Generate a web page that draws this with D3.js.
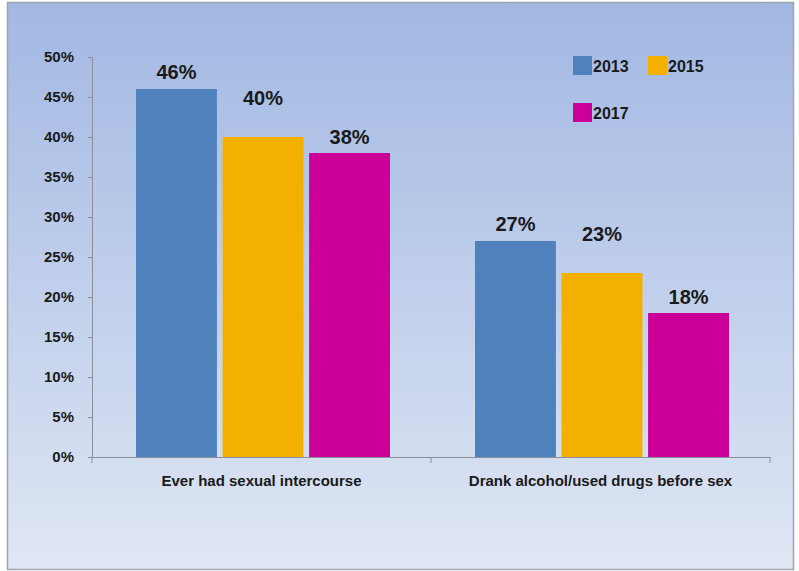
<!DOCTYPE html>
<html>
<head>
<meta charset="utf-8">
<script src="https://cdn.jsdelivr.net/npm/d3@7"></script>
<style>
  html, body { margin: 0; padding: 0; background: #ffffff; }
  svg { display: block; }
  text { font-family: "Liberation Sans", Arial, sans-serif; font-weight: bold; fill: #1a1a1a; }
</style>
</head>
<body>
<svg id="chart" width="799" height="571"></svg>
<script>
// Survey categories and the share of students for each survey year
const categories = ["Ever had sexual intercourse", "Drank alcohol/used drugs before sex"];
const years = ["2013", "2015", "2017"];
const values2013 = [46, 27];
const values2015 = [40, 23];
const values2017 = [38, 18];
const yTicks = [0, 5, 10, 15, 20, 25, 30, 35, 40, 45, 50];
const colors = ["#4f81bd", "#f3b000", "#cc0099"];

const seriesValues = [values2013, values2015, values2017];

const svg = d3.select("#chart");

// Panel background with a vertical gradient
const defs = svg.append("defs");
const grad = defs.append("linearGradient")
  .attr("id", "bg").attr("x1", 0).attr("y1", 0).attr("x2", 0).attr("y2", 1);
grad.append("stop").attr("offset", "0%").attr("stop-color", "#a2b8e3");
grad.append("stop").attr("offset", "55%").attr("stop-color", "#c3d1ec");
grad.append("stop").attr("offset", "100%").attr("stop-color", "#e0e7f4");

svg.append("rect")
  .attr("x", 7.5).attr("y", 2.5).attr("width", 786).attr("height", 567)
  .attr("fill", "url(#bg)")
  .attr("stroke", "#a0a4ac").attr("stroke-width", 1.5);

const plot = { left: 92, right: 770, top: 57, bottom: 457 };

const x0 = d3.scaleBand()
  .domain(categories)
  .range([plot.left, plot.right])
  .paddingInner(0)
  .paddingOuter(0);

const x1 = d3.scaleBand()
  .domain(years)
  .range([44, x0.bandwidth() - 41])
  .paddingInner(0.065);

const y = d3.scaleLinear().domain([0, 50]).range([plot.bottom, plot.top]);

// Y axis
const yAxis = d3.axisLeft(y)
  .tickValues(yTicks)
  .tickSize(4)
  .tickPadding(14)
  .tickFormat(d => d + "%");
const gy = svg.append("g").attr("transform", `translate(${plot.left},0)`).call(yAxis);
gy.select(".domain").attr("stroke", "#8a8f99");
gy.selectAll(".tick line").attr("stroke", "#8a8f99");
gy.selectAll(".tick text").attr("font-size", 15).attr("fill", "#1a1a1a")
  .attr("font-family", "Liberation Sans, Arial, sans-serif").attr("font-weight", "bold");

// Bars
const groups = svg.append("g").selectAll("g")
  .data(categories)
  .join("g")
  .attr("transform", d => `translate(${x0(d)},0)`);

groups.selectAll("rect")
  .data((d, ci) => years.map((yr, si) => ({ yr, si, v: seriesValues[si][ci] })))
  .join("rect")
  .attr("x", d => x1(d.yr))
  .attr("y", d => y(d.v))
  .attr("width", x1.bandwidth())
  .attr("height", d => y(0) - y(d.v))
  .attr("fill", d => colors[d.si]);

// Value labels (the middle series sits higher than its bar)
const labelOffset = [10, 32, 9];
groups.selectAll("text.val")
  .data((d, ci) => years.map((yr, si) => ({ yr, si, v: seriesValues[si][ci] })))
  .join("text")
  .attr("class", "val")
  .attr("x", d => x1(d.yr) + x1.bandwidth() / 2)
  .attr("y", d => y(d.v) - labelOffset[d.si])
  .attr("text-anchor", "middle")
  .attr("font-size", 20)
  .text(d => d.v + "%");

// X axis with category separators
const xAxis = d3.axisBottom(x0).tickSize(0).tickPadding(18);
const gx = svg.append("g").attr("transform", `translate(0,${plot.bottom})`).call(xAxis);
gx.select(".domain").attr("stroke", "#8a8f99");
gx.selectAll(".tick text").attr("font-size", 15).attr("fill", "#1a1a1a")
  .attr("font-family", "Liberation Sans, Arial, sans-serif").attr("font-weight", "bold");
gx.selectAll("line.sep")
  .data([plot.left, x0(categories[1]), plot.right])
  .join("line")
  .attr("class", "sep")
  .attr("x1", d => d).attr("x2", d => d)
  .attr("y1", 0).attr("y2", 6)
  .attr("stroke", "#8a8f99");

// Legend
const legendPos = [[573, 56], [648, 56], [573, 103]];
const lg = svg.append("g").selectAll("g")
  .data(years)
  .join("g")
  .attr("transform", (d, i) => `translate(${legendPos[i][0]},${legendPos[i][1]})`);
lg.append("rect").attr("width", 19).attr("height", 19).attr("fill", (d, i) => colors[i]);
lg.append("text").attr("x", 20).attr("y", 16).attr("font-size", 16).text(d => d);
</script>
</body>
</html>
